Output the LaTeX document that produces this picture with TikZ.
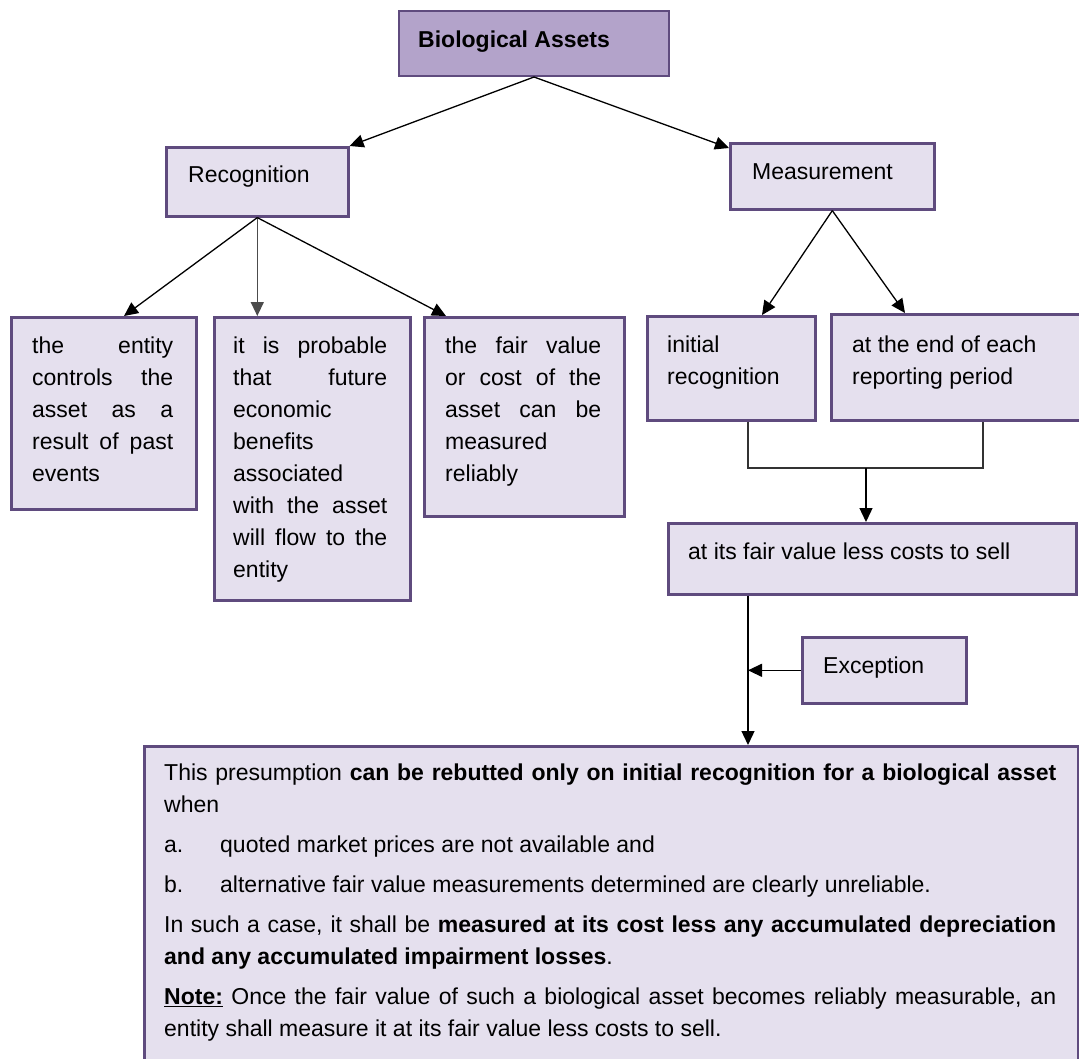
\documentclass[tikz,border=0pt]{standalone}
\usepackage{fontspec}
\setmainfont{Liberation Sans}
\usetikzlibrary{arrows.meta}
\definecolor{boxline}{HTML}{5F4B7E}
\definecolor{boxfill}{HTML}{E5E0EE}
\definecolor{headfill}{HTML}{B3A3CA}
% one justified line of a given width
\newcommand{\jline}[2]{\makebox[#1][s]{#2}}
\begin{document}
\begin{tikzpicture}[x=1pt,y=-1pt,
  box/.style={draw=boxline, line width=2.6pt, fill=boxfill, inner sep=0pt, anchor=north west},
  headbox/.style={box, fill=headfill, line width=2pt},
  txt/.style={inner sep=0pt, anchor=base west, font=\fontsize{23}{32}\selectfont},
  para/.style={inner sep=0pt, anchor=north west, align=left, font=\fontsize{23}{32}\selectfont},
  arr/.style={line width=1.3pt, -{Triangle[length=14pt,width=13pt]}},
  link/.style={line width=1.3pt, draw=black!80}
]
\useasboundingbox (0,0) rectangle (1079,1058);
\clip (0,0) rectangle (1079,1058);

% boxes
\node[headbox, minimum width=270pt, minimum height=65pt] (top) at (398,10) {};
\node[box, minimum width=182pt, minimum height=69pt] (rec) at (165,146) {};
\node[box, minimum width=204pt, minimum height=66pt] (meas) at (729,142) {};
\node[box, minimum width=185pt, minimum height=192pt] (b1) at (10,316) {};
\node[box, minimum width=196pt, minimum height=283pt] (b2) at (213,316) {};
\node[box, minimum width=200pt, minimum height=199pt] (b3) at (423,316) {};
\node[box, minimum width=168pt, minimum height=104pt] (init) at (646,315) {};
\node[box, minimum width=265pt, minimum height=106pt] (endp) at (830,313) {};
\node[box, minimum width=408pt, minimum height=71pt] (fv) at (667,522) {};
\node[box, minimum width=164pt, minimum height=66pt] (exc) at (801,636) {};
\node[box, minimum width=934pt, minimum height=330pt] (note) at (143,745) {};

% labels
\node[txt, font=\fontsize{23}{32}\selectfont\bfseries] (ttop) at (418,47) {Biological Assets};
\node[txt] (trec) at (188,182) {Recognition};
\node[txt] (tmeas) at (752,179) {Measurement};
\node[para] (tb1) at (32,330.6) {\strut\jline{141pt}{the entity}\\
  \jline{141pt}{controls the}\\
  \jline{141pt}{asset as a}\\
  \jline{141pt}{result of past}\\
  events};
\node[para] (tb2) at (233,330.6) {\strut\jline{154pt}{it is probable}\\
  \jline{154pt}{that future}\\
  economic\\
  benefits\\
  associated\\
  \jline{154pt}{with the asset}\\
  \jline{154pt}{will flow to the}\\
  entity};
\node[para] (tb3) at (445,330.6) {\strut\jline{156pt}{the fair value}\\
  \jline{156pt}{or cost of the}\\
  \jline{156pt}{asset can be}\\
  measured\\
  reliably};
\node[para] (tinit) at (667,329.6) {\strut initial\\ recognition};
\node[para] (tendp) at (852,329.6) {\strut at the end of each\\ reporting period};
\node[txt] (tfv) at (688,559) {at its fair value less costs to sell};
\node[txt] (texc) at (823,673) {Exception};
\node[para] (tnote) at (164,757.6) {\strut\jline{892pt}{This presumption \textbf{can be rebutted only on initial recognition for a biological asset}}\\
  when\\[8pt]
  \makebox[56pt][l]{a.}quoted market prices are not available and\\[8pt]
  \makebox[56pt][l]{b.}alternative fair value measurements determined are clearly unreliable.\\[8pt]
  \jline{892pt}{In such a case, it shall be \textbf{measured at its cost less any accumulated depreciation}}\\
  \textbf{and any accumulated impairment losses}.\\[8pt]
  \jline{892pt}{\underline{\textbf{Note:}} Once the fair value of such a biological asset becomes reliably measurable, an}\\
  entity shall measure it at its fair value less costs to sell.};

% connectors
\draw[arr] (top.south) -- (rec.north east);
\draw[arr] (top.south) -- ([yshift=-6pt]meas.north west);
\draw[arr] (rec.south) -- ([xshift=114pt]b1.north west);
\draw[arr, draw=black!70] (rec.south) -- (rec.south |- b2.north);
\draw[arr] (rec.south) -- ([xshift=23pt]b3.north west);
\draw[arr] (meas.south) -- ([xshift=116pt]init.north west);
\draw[arr] (meas.south) -- ([xshift=75pt]endp.north west);

\coordinate (jn) at (866,468);
\draw[link] ([xshift=102pt]init.south west) |- (jn) -| ([xshift=153pt]endp.south west);
\draw[arr] (jn) -- (jn |- fv.north);

\coordinate (stem) at ([xshift=81pt]fv.south west);
\draw[arr] (stem) -- (stem |- note.north);
\draw[arr] (exc.west) -- (exc.west -| stem);
\end{tikzpicture}
\end{document}
